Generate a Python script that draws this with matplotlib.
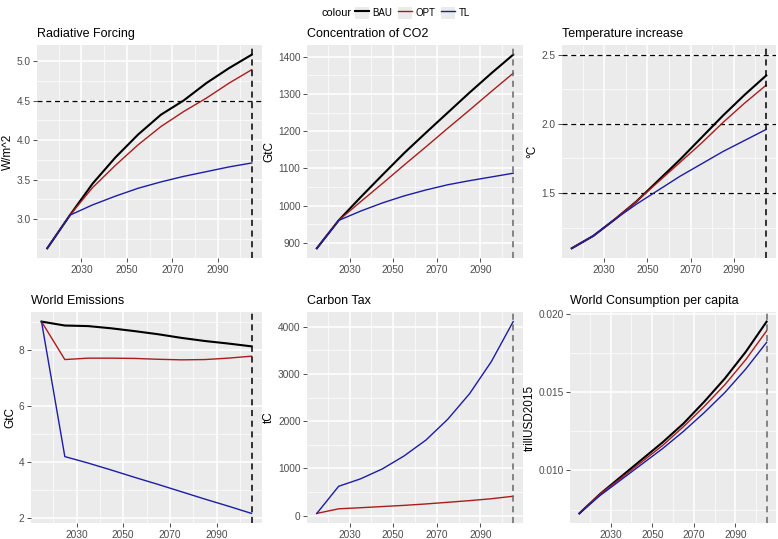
import numpy as np
import matplotlib
matplotlib.use("Agg")
import matplotlib.pyplot as plt
from matplotlib.lines import Line2D
from matplotlib.patches import Patch
from matplotlib.legend_handler import HandlerTuple

plt.rcParams['font.family'] = ['Liberation Sans', 'DejaVu Sans']

years = [2015, 2025, 2035, 2045, 2055, 2065, 2075, 2085, 2095, 2105]
scenarios = ["BAU", "OPT", "TL"]
colours = {"BAU": "black", "OPT": "#AA1C1C", "TL": "#1C1CA8"}
widths = {"BAU": 1.5, "OPT": 1.0, "TL": 1.0}

# radiative forcing W/m^2
rf_bau = [2.63, 3.05, 3.45, 3.78, 4.07, 4.32, 4.50, 4.72, 4.91, 5.08]
rf_opt = [2.63, 3.05, 3.40, 3.68, 3.94, 4.17, 4.36, 4.53, 4.72, 4.89]
rf_tl = [2.63, 3.05, 3.18, 3.29, 3.39, 3.47, 3.54, 3.60, 3.66, 3.71]

# concentration of CO2, GtC
co2_bau = [885, 960, 1022, 1082, 1141, 1196, 1250, 1304, 1356, 1406]
co2_opt = [885, 960, 1010, 1059, 1109, 1158, 1208, 1257, 1307, 1356]
co2_tl = [885, 960, 985, 1007, 1026, 1042, 1056, 1067, 1077, 1087]

# temperature increase
temp_bau = [1.10, 1.19, 1.31, 1.44, 1.59, 1.74, 1.90, 2.06, 2.21, 2.35]
temp_opt = [1.10, 1.19, 1.31, 1.44, 1.58, 1.72, 1.86, 2.01, 2.15, 2.28]
temp_tl = [1.10, 1.19, 1.31, 1.42, 1.52, 1.62, 1.71, 1.80, 1.88, 1.96]

# world emissions GtC
em_bau = [9.0, 8.86, 8.84, 8.76, 8.66, 8.55, 8.42, 8.31, 8.22, 8.12]
em_opt = [9.0, 7.65, 7.70, 7.70, 7.69, 7.66, 7.64, 7.65, 7.70, 7.77]
em_tl = [9.0, 4.20, 3.97, 3.72, 3.46, 3.21, 2.95, 2.69, 2.44, 2.18]

# carbon tax (no BAU)
tax_opt = [50, 147, 170, 195, 220, 250, 285, 320, 360, 413]
tax_tl = [50, 623, 780, 990, 1265, 1600, 2040, 2580, 3260, 4105]

# consumption per capita
cons_bau = [0.00725, 0.0085, 0.0096, 0.0107, 0.0118, 0.0130, 0.0144, 0.0159, 0.0176, 0.01953]
cons_opt = [0.00725, 0.0085, 0.0095, 0.01055, 0.0116, 0.0128, 0.0141, 0.0155, 0.0171, 0.01894]
cons_tl = [0.00725, 0.0084, 0.0094, 0.0104, 0.0114, 0.0125, 0.0137, 0.0150, 0.0165, 0.0182]

end_year = 2105

panels = [
    dict(title="Radiative Forcing", ylab="W/m^2", data={"BAU": rf_bau, "OPT": rf_opt, "TL": rf_tl},
         hl=[4.5], yt=[3.0, 3.5, 4.0, 4.5, 5.0], fmt="{:.1f}", vc="black",
         box=(37, 262, 45, 258)),
    dict(title="Concentration of CO2", ylab="GtC", data={"BAU": co2_bau, "OPT": co2_opt, "TL": co2_tl},
         hl=[], yt=[900, 1000, 1100, 1200, 1300, 1400], fmt="{:.0f}", vc="#666666",
         box=(307, 523, 45, 258)),
    dict(title="Temperature increase", ylab="°C", data={"BAU": temp_bau, "OPT": temp_opt, "TL": temp_tl},
         hl=[1.5, 2.0, 2.5], yt=[1.5, 2.0, 2.5], fmt="{:.1f}", vc="black",
         box=(562, 776, 45, 258)),
    dict(title="World Emissions", ylab="GtC", data={"BAU": em_bau, "OPT": em_opt, "TL": em_tl},
         hl=[], yt=[2, 4, 6, 8], fmt="{:.0f}", vc="black",
         box=(31, 262, 312, 523)),
    dict(title="Carbon Tax", ylab="tC", data={"OPT": tax_opt, "TL": tax_tl},
         hl=[], yt=[0, 1000, 2000, 3000, 4000], fmt="{:.0f}", vc="#666666",
         box=(307, 523, 312, 523)),
    dict(title="World Consumption per capita", ylab="trillUSD2015",
         data={"BAU": cons_bau, "OPT": cons_opt, "TL": cons_tl},
         hl=[], yt=[0.010, 0.015, 0.020], fmt="{:.3f}", vc="#666666",
         box=(570, 776, 312, 523)),
]

W, H = 778, 539
fig = plt.figure(figsize=(W / 100, H / 100), dpi=100)

for p in panels:
    l, r, t, b = p["box"]
    ax = fig.add_axes([l / W, 1 - b / H, (r - l) / W, (b - t) / H])
    ax.set_facecolor("#EBEBEB")
    for s in ax.spines.values():
        s.set_visible(False)

    vals = np.concatenate([np.array(v, float) for v in p["data"].values()] + [np.array(p["hl"], float)])
    lo, hi = vals.min(), vals.max()
    pad = (hi - lo) * 0.05

    ax.set_xticks([2030, 2050, 2070, 2090])
    ax.set_xticks([2020, 2040, 2060, 2080, 2100], minor=True)
    ax.set_xlim(2015 - 4.5, 2105 + 4.5)
    yt = p["yt"]
    ax.set_yticks(yt)
    step = yt[1] - yt[0]
    ymin_t = [yt[0] - step / 2] + [v + step / 2 for v in yt]
    ax.set_yticks(ymin_t, minor=True)
    ax.set_ylim(lo - pad, hi + pad)
    ax.set_yticklabels([p["fmt"].format(v) for v in yt])

    ax.grid(which="major", color="white", lw=1.1)
    ax.grid(which="minor", color="white", lw=0.5)
    ax.set_axisbelow(True)
    ax.tick_params(which="major", length=2.7, width=0.6, color="#333333",
                   labelsize=7.3, labelcolor="#4D4D4D", pad=2)
    ax.tick_params(which="minor", length=0)

    for y in p["hl"]:
        ax.axhline(y, color="black", lw=0.9, ls=(0, (4, 3)))
    for sc in scenarios:
        if sc in p["data"]:
            ax.plot(years, p["data"][sc], color=colours[sc], lw=widths[sc], zorder=3)
    ax.axvline(end_year, color=p["vc"], lw=1.1, ls=(0, (4, 3)), zorder=4)

    ax.set_title(p["title"], loc="left", fontsize=9, pad=6)
    ax.set_ylabel(p["ylab"], fontsize=8.5, labelpad=2)

handles = [(Patch(facecolor="#EBEBEB", edgecolor="none"),
            Line2D([], [], color=colours[s], lw=widths[s])) for s in scenarios]
fig.text(321 / W, 1 - 13 / H, "colour", fontsize=7.8, va="center", ha="left")
leg = fig.legend(handles, scenarios, loc="center left", bbox_to_anchor=(355 / W, 1 - 13 / H),
                 ncol=3, frameon=False, fontsize=7, handlelength=1.4, handleheight=1.6,
                 handletextpad=0.4, columnspacing=0.6, borderaxespad=0, borderpad=0,
                 handler_map={tuple: HandlerTuple(ndivide=1)})

fig.savefig("out.png", dpi=100)
